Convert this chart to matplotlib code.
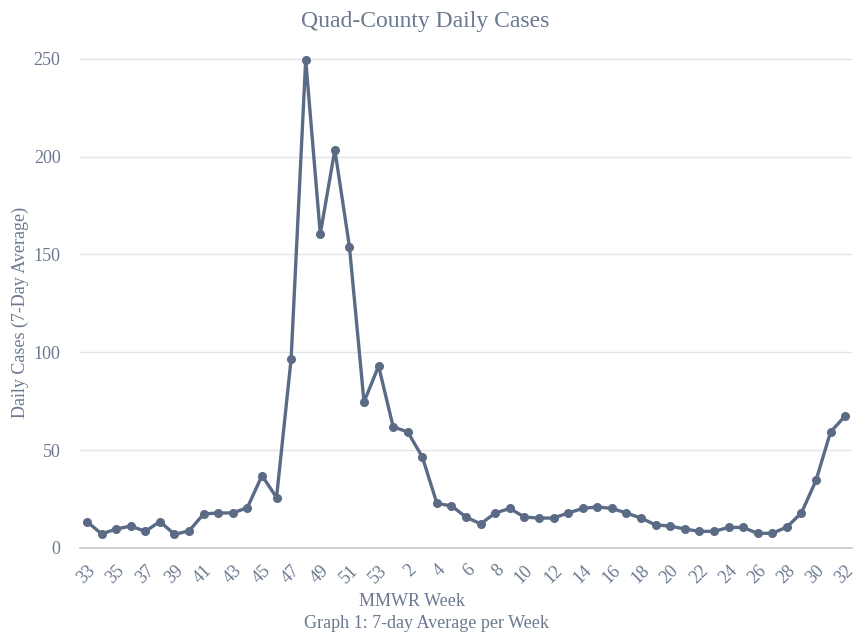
import matplotlib
matplotlib.use("Agg")
import matplotlib.pyplot as plt

weeks = [33, 34, 35, 36, 37, 38, 39, 40, 41, 42, 43, 44, 45, 46, 47, 48, 49, 50, 51, 52, 53,
         1, 2, 3, 4, 5, 6, 7, 8, 9, 10, 11, 12, 13, 14, 15, 16, 17, 18, 19, 20, 21, 22, 23,
         24, 25, 26, 27, 28, 29, 30, 31, 32]
cases = [13.5, 7.2, 9.7, 11.2, 8.5, 13.5, 7.0, 8.7, 17.4, 17.9, 17.9, 20.6, 37.0, 25.8,
         96.6, 249.5, 160.5, 203.5, 154.0, 74.6, 93.0,
         61.9, 59.3, 46.5, 22.8, 21.5, 15.8, 12.3, 17.9, 20.2, 15.8, 15.3, 15.3, 17.9,
         20.2, 21.0, 20.2, 17.9, 15.3, 11.8, 11.2, 9.7, 8.5, 8.5, 10.5, 10.5, 7.5, 7.5,
         10.7, 17.9, 34.5, 59.3, 67.5]
yticks = [0, 50, 100, 150, 200, 250]

line_color = "#5b6b86"
text_color = "#6a7890"

plt.rcParams['font.family'] = ['Liberation Serif', 'DejaVu Serif']

fig = plt.figure(figsize=(8.67, 6.35), dpi=100)
ax = fig.add_axes([80/867, 1-548/635, (852-80)/867, (548-49)/635])

x = list(range(len(weeks)))
ax.plot(x, cases, color=line_color, lw=2.4, marker='o', markersize=5.5,
        solid_joinstyle='round', zorder=3)

ax.set_xlim(-0.48, len(weeks) - 1 + 0.47)
ax.set_ylim(0, 255)
ax.set_yticks(yticks)
ax.set_yticklabels([str(v) for v in yticks])
ax.set_xticks(x[::2])
ax.set_xticklabels([str(w) for w in weeks[::2]], rotation=45, ha='right',
                   rotation_mode='anchor')

ax.grid(axis='y', color='#e4e4e8', lw=1)
ax.set_axisbelow(True)
for s in ['top', 'right', 'left']:
    ax.spines[s].set_visible(False)
ax.spines['bottom'].set_color('#c4c8d0')
ax.spines['bottom'].set_linewidth(1.2)
ax.tick_params(axis='both', length=0, colors=text_color, labelsize=13)
ax.tick_params(axis='y', pad=14)
ax.tick_params(axis='x', pad=10)

fig.text(425/867, 1-21/635, "Quad-County Daily Cases", ha='center', va='center',
         fontsize=17, color=text_color)
fig.text(20/867, 1-312/635, "Daily Cases (7-Day Average)", ha='center', va='center',
         rotation=90, fontsize=13, color=text_color)
fig.text(412/867, 1-601/635, "MMWR Week", ha='center', va='center',
         fontsize=13, color=text_color)
fig.text(426/867, 1-624/635, "Graph 1: 7-day Average per Week", ha='center', va='center',
         fontsize=13, color=text_color)

fig.savefig("out.png", dpi=100, facecolor='white')
